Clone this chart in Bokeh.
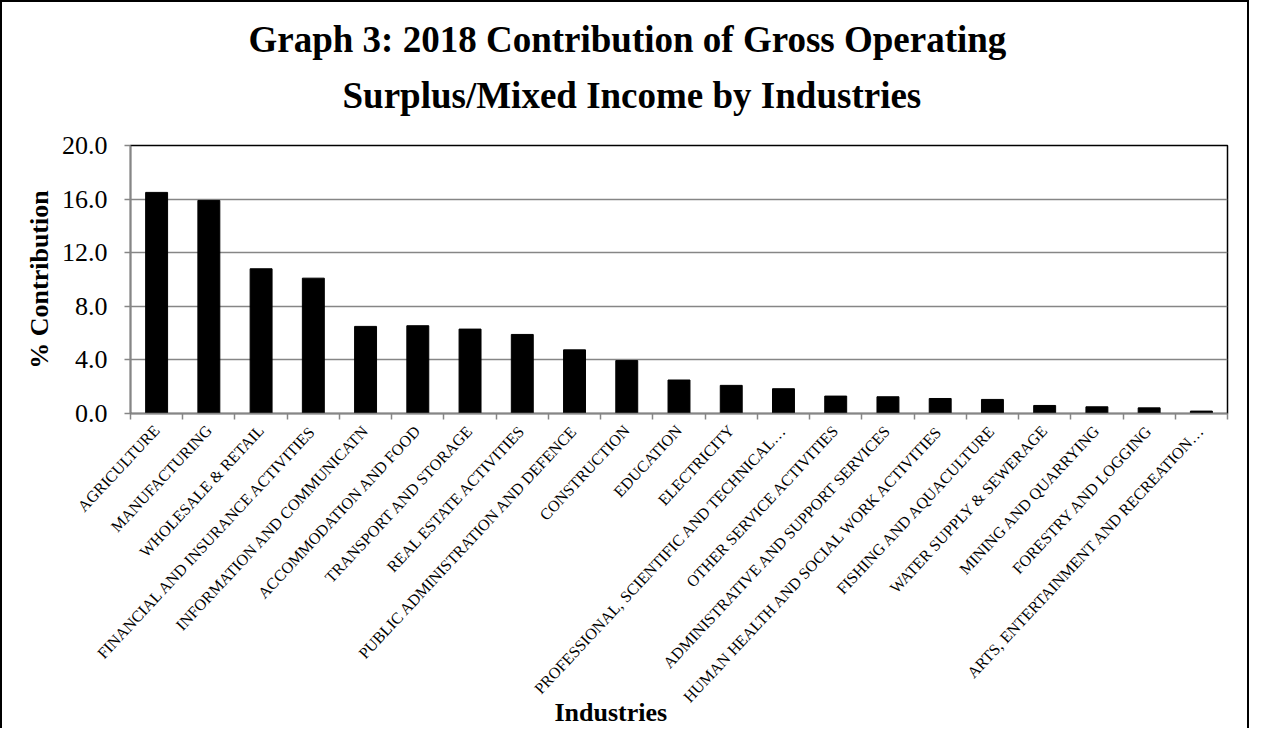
from bokeh.plotting import figure
from bokeh.models import (Range1d, FixedTicker, NumeralTickFormatter, Title, ColumnDataSource)
from bokeh.embed import file_html
from bokeh.resources import INLINE

categories = [
    "AGRICULTURE", "MANUFACTURING", "WHOLESALE & RETAIL",
    "FINANCIAL AND INSURANCE ACTIVITIES", "INFORMATION AND COMMUNICATN",
    "ACCOMMODATION AND FOOD", "TRANSPORT AND STORAGE", "REAL ESTATE ACTIVITIES",
    "PUBLIC ADMINISTRATION AND DEFENCE", "CONSTRUCTION", "EDUCATION", "ELECTRICITY",
    "PROFESSIONAL, SCIENTIFIC AND TECHNICAL\u2026", "OTHER SERVICE ACTIVITIES",
    "ADMINISTRATIVE AND SUPPORT SERVICES", "HUMAN HEALTH AND SOCIAL WORK ACTIVITIES",
    "FISHING AND AQUACULTURE", "WATER SUPPLY & SEWERAGE", "MINING AND QUARRYING",
    "FORESTRY AND LOGGING", "ARTS, ENTERTAINMENT AND RECREATION\u2026",
]
values = [16.5, 15.9, 10.8, 10.1, 6.5, 6.55, 6.3, 5.9, 4.75, 3.95, 2.5, 2.1,
          1.85, 1.3, 1.25, 1.12, 1.05, 0.6, 0.5, 0.42, 0.18]
y_ticks = [0, 4, 8, 12, 16, 20]

title_line1 = "Graph 3: 2018 Contribution of Gross Operating"
title_line2 = "Surplus/Mixed Income by Industries"
x_title = "Industries"
y_title = "% Contribution"

FONT = "Liberation Serif"
n = len(categories)
centers = [i + 0.5 for i in range(n)]
bounds = list(range(n + 1))

src = ColumnDataSource(dict(x=centers, top=values))

p = figure(width=1249, height=728, output_backend="svg", toolbar_location=None,
           x_range=Range1d(0, n), y_range=Range1d(0, 20),
           min_border_left=128, min_border_right=24, min_border_top=143,
           min_border_bottom=316,
           styles={"border-top": "2px solid black", "border-left": "2px solid black",
                   "border-right": "2px solid black"})
p.title.text = ""

p.vbar(x="x", top="top", width=0.42, source=src, fill_color="black", line_color="black")

p.outline_line_color = "black"
p.outline_line_width = 1.5

# y axis
yax = p.yaxis[0]
yax.ticker = FixedTicker(ticks=y_ticks)
yax.formatter = NumeralTickFormatter(format="0.0")
yax.axis_line_color = "#868686"
yax.axis_line_width = 1.5
yax.major_tick_line_color = "#868686"
yax.major_tick_line_width = 1.5
yax.major_tick_out = 6
yax.major_tick_in = 0
yax.minor_tick_line_color = None
yax.major_label_text_font = FONT
yax.major_label_text_font_size = "26px"
yax.major_label_text_color = "black"
yax.major_label_standoff = 17
yax.axis_label = y_title
yax.axis_label_text_font = FONT
yax.axis_label_text_font_size = "26px"
yax.axis_label_text_font_style = "bold"
yax.axis_label_text_color = "black"
yax.axis_label_standoff = 5

# x axis
xax = p.xaxis[0]
xax.ticker = FixedTicker(ticks=centers, minor_ticks=bounds)
xax.major_label_overrides = {c: lab for c, lab in zip(centers, categories)}
xax.major_label_orientation = 0.82
xax.major_label_text_font = FONT
xax.major_label_text_font_size = "16px"
xax.major_label_text_color = "black"
xax.major_label_standoff = 8
xax.major_tick_line_color = None
xax.minor_tick_line_color = "#868686"
xax.minor_tick_line_width = 1.5
xax.minor_tick_out = 6
xax.minor_tick_in = 0
xax.axis_line_color = "#868686"
xax.axis_line_width = 1.5
# trailing no-break spaces shift the centred label left, as in the original
xax.axis_label = x_title + "\u00a0" * 21
xax.axis_label_text_font = FONT
xax.axis_label_text_font_size = "26px"
xax.axis_label_text_font_style = "bold"
xax.axis_label_text_color = "black"
xax.axis_label_standoff = -16

p.xgrid.grid_line_color = None
p.ygrid.ticker = FixedTicker(ticks=y_ticks)
p.ygrid.grid_line_color = "#868686"
p.ygrid.grid_line_width = 1.5

# titles
t2 = Title(text=title_line2, align="left", offset=212, text_font=FONT,
           text_font_size="37px", text_font_style="bold", text_color="black", standoff=60)
t1 = Title(text=title_line1, align="left", offset=118, text_font=FONT,
           text_font_size="37px", text_font_style="bold", text_color="black", standoff=-34)
p.add_layout(t2, "above")
p.add_layout(t1, "above")

p.background_fill_color = "white"
p.border_fill_color = "white"

open("out.html", "w").write(file_html(p, INLINE))
